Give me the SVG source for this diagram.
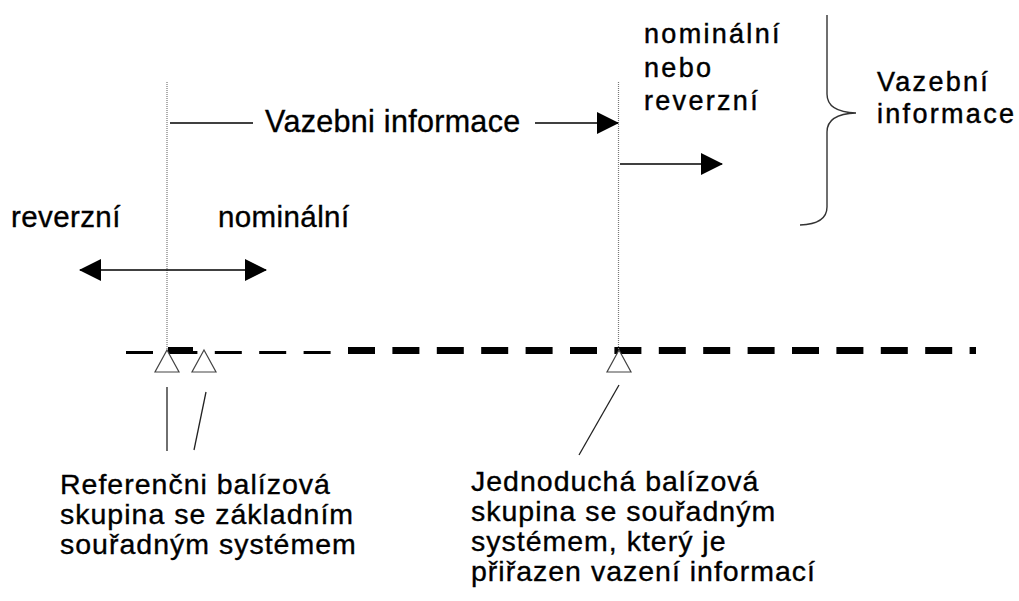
<svg xmlns="http://www.w3.org/2000/svg" width="1019" height="601" viewBox="0 0 1019 601">
<style>
  text { font-family: "Liberation Sans", Arial, sans-serif; fill: #000; stroke: #000; stroke-width: 0.35px; }
  .mid { font-size: 29.5px; letter-spacing: 0.4px; }
  .vaz { font-size: 30.5px; letter-spacing: 0.3px; }
  .bot { font-size: 28.5px; letter-spacing: 1px; }
  .top { font-size: 27px; letter-spacing: 2.3px; stroke-width: 0.45px; }
  .conn { stroke: #000; stroke-width: 1.6; fill: none; }
  .dot { stroke: #777; stroke-width: 1.2; stroke-dasharray: 1 1; fill: none; }
  .lead { stroke: #222; stroke-width: 1.3; fill: none; }
  .tri { fill: #fff; stroke: #444; stroke-width: 1.2; }
  .brace { stroke: #333; stroke-width: 1.4; fill: none; }
</style>
<defs>
  <marker id="ah" markerUnits="userSpaceOnUse" markerWidth="22" markerHeight="22" refX="21" refY="11" orient="auto-start-reverse" viewBox="0 0 22 22">
    <path d="M0,0 L22,11 L0,22 Z" fill="#000"/>
  </marker>
</defs>
<rect width="1019" height="601" fill="#fff"/>

<g id="track">
  <line x1="126" y1="352.5" x2="331" y2="352.5" stroke="#000" stroke-width="3.2" stroke-dasharray="27 17.4"/>
  <rect x="168" y="347" width="25" height="7" fill="#000"/>
  <line x1="348" y1="350.5" x2="976" y2="350.5" stroke="#000" stroke-width="7" stroke-dasharray="27 17.4"/>
</g>

<g id="guides">
  <line class="dot" x1="167" y1="82" x2="167" y2="350"/>
  <line class="dot" x1="618.5" y1="82" x2="618.5" y2="350"/>
</g>

<g id="balise-ref1"><polygon class="tri" points="167,350 179,372 155,372"/></g>
<g id="balise-ref2"><polygon class="tri" points="204,350 216,372 192,372"/></g>
<g id="balise-single"><polygon class="tri" points="619,350 631,372 607,372"/></g>

<g id="connectors">
  <line class="conn" x1="80" y1="270" x2="266" y2="270" marker-start="url(#ah)" marker-end="url(#ah)"/>
  <line class="conn" x1="170" y1="123" x2="253" y2="123"/>
  <line class="conn" x1="535" y1="123" x2="618" y2="123" marker-end="url(#ah)"/>
  <line class="conn" x1="620" y1="164" x2="722" y2="164" marker-end="url(#ah)"/>
  <line class="lead" x1="167" y1="387" x2="167" y2="451"/>
  <line class="lead" x1="206" y1="392" x2="194" y2="450"/>
  <line class="lead" x1="619" y1="385" x2="579" y2="455"/>
  <path class="brace" d="M827,15 L827,94 Q827,112 856,113 Q827,114 827,132 L827,207 Q827,224 800,225"/>
</g>

<g id="label-reverzni"><text class="mid" x="11" y="227">reverzní</text></g>
<g id="label-nominalni"><text class="mid" x="218" y="227">nominální</text></g>
<g id="label-vazebni"><text class="vaz" x="265" y="132">Vazebni informace</text></g>
<g id="label-nom-nebo-rev">
  <text class="top" x="644" y="43">nominální</text>
  <text class="top" x="644" y="76.5">nebo</text>
  <text class="top" x="644" y="110">reverzní</text>
</g>
<g id="label-brace">
  <text class="top" x="877" y="91">Vazební</text>
  <text class="top" x="877" y="123">informace</text>
</g>
<g id="label-ref">
  <text class="bot" x="60" y="493.5">Referenčni balízová</text>
  <text class="bot" x="60" y="523.5">skupina se základním</text>
  <text class="bot" x="60" y="553.5">souřadným systémem</text>
</g>
<g id="label-single">
  <text class="bot" x="471" y="491">Jednoduchá balízová</text>
  <text class="bot" x="471" y="521">skupina se souřadným</text>
  <text class="bot" x="471" y="551">systémem, který je</text>
  <text class="bot" x="471" y="581">přiřazen vazení informací</text>
</g>
</svg>
